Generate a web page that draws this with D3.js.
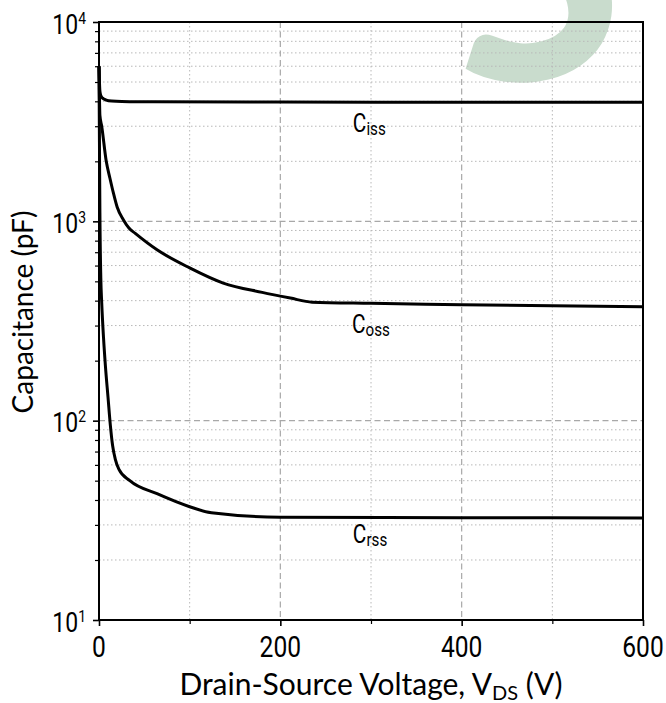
<!DOCTYPE html>
<html>
<head>
<meta charset="utf-8">
<script src="https://cdn.jsdelivr.net/npm/d3@7"></script>
<style>
  body { margin: 0; background: #fff; }
  svg { display: block; }
</style>
</head>
<body>
<div id="chart"></div>
<script>
// capacitance curves (V, pF)
const cissV = [0, 0.5, 1, 2, 4, 8, 14, 25, 60, 200, 400, 600];
const cissC = [6000, 5000, 4500, 4280, 4150, 4060, 4010, 3990, 3980, 3970, 3960, 3960];

const cossV = [0, 0.5, 1, 3, 8, 12, 16, 20, 27, 33, 40, 64, 100, 137, 180, 211, 235, 300, 400, 500, 600];
const cossC = [6000, 4200, 3400, 3000, 2000, 1650, 1380, 1180, 1016, 925, 870, 720, 584, 490, 440, 412, 393, 388, 382, 377, 373];

const crssV = [0, 0.5, 1, 2, 3, 5, 7, 10, 12.5, 15, 18, 22, 34, 64, 100, 124, 200, 400, 600];
const crssC = [6000, 2500, 1100, 520, 390, 260, 190, 130, 95, 75, 64, 57, 50, 43, 37, 34.5, 32.8, 32.6, 32.5];

const xTicks = [0, 200, 400, 600];
const xMinor = [100, 300, 500];
const yTicks = [10, 100, 1000, 10000];

// label anchors (V, pF)
const curveLabels = [
  {main: "C", sub: "iss", v: 280, c: 2800},
  {main: "C", sub: "oss", v: 279, c: 275},
  {main: "C", sub: "rss", v: 280, c: 24.3}
];

const margin = {top: 22, right: 23, bottom: 83, left: 99},
  width = 666 - margin.left - margin.right,
  height = 703 - margin.top - margin.bottom;

const svgRoot = d3.select("#chart")
  .append("svg")
    .attr("width", 666)
    .attr("height", 703);

// faint watermark behind everything (only its lower part shows in the picture)
svgRoot.append("text")
  .attr("transform", "translate(552,76) rotate(-14)")
  .attr("text-anchor", "middle")
  .attr("font-family", "Lato")
  .attr("font-weight", 900)
  .attr("font-size", 320)
  .attr("fill", "#c9dccd")
  .text("S");

const svg = svgRoot.append("g")
    .attr("transform", "translate(" + margin.left + "," + margin.top + ")");

const x = d3.scaleLinear().domain([0, 600]).range([0, width]);
const y = d3.scaleLog().domain([10, 10000]).range([height, 0]);

// minor values on the log axis
let yMinor = [];
[10, 100, 1000].forEach(function (dec) {
  for (let k = 2; k <= 9; k++) yMinor.push(dec * k);
});

// grid
svg.append("g").selectAll("line")
  .data(yMinor).enter().append("line")
  .attr("x1", 0).attr("x2", width)
  .attr("y1", function (d) { return y(d); })
  .attr("y2", function (d) { return y(d); })
  .attr("stroke", "#b8b8b8").attr("stroke-width", 1)
  .attr("stroke-dasharray", "1.5,2.5");

svg.append("g").selectAll("line")
  .data(xMinor).enter().append("line")
  .attr("x1", function (d) { return x(d); })
  .attr("x2", function (d) { return x(d); })
  .attr("y1", 0).attr("y2", height)
  .attr("stroke", "#b8b8b8").attr("stroke-width", 1)
  .attr("stroke-dasharray", "1.5,2.5");

svg.append("g").selectAll("line")
  .data([100, 1000]).enter().append("line")
  .attr("x1", 0).attr("x2", width)
  .attr("y1", function (d) { return y(d); })
  .attr("y2", function (d) { return y(d); })
  .attr("stroke", "#a8a8a8").attr("stroke-width", 1.2)
  .attr("stroke-dasharray", "6,3.5");

svg.append("g").selectAll("line")
  .data([200, 400]).enter().append("line")
  .attr("x1", function (d) { return x(d); })
  .attr("x2", function (d) { return x(d); })
  .attr("y1", 0).attr("y2", height)
  .attr("stroke", "#a8a8a8").attr("stroke-width", 1.2)
  .attr("stroke-dasharray", "6,3.5");

// curves
const line = d3.line()
  .x(function (d) { return x(d[0]); })
  .y(function (d) { return y(d[1]); })
  .curve(d3.curveMonotoneX);

[[cissV, cissC], [cossV, cossC], [crssV, crssC]].forEach(function (s) {
  svg.append("path")
    .datum(s[0].map(function (v, i) { return [v, s[1][i]]; }))
    .attr("fill", "none")
    .attr("stroke", "#000")
    .attr("stroke-width", 3)
    .attr("stroke-linejoin", "round")
    .attr("d", line);
});

// curve labels
curveLabels.forEach(function (l) {
  let t = svg.append("text")
    .attr("transform", "translate(" + x(l.v) + "," + y(l.c) + ") scale(0.8,1)")
    .attr("font-family", "Roboto")
    .attr("font-size", 26)
    .attr("fill", "#000");
  t.append("tspan").text(l.main);
  t.append("tspan").attr("dy", 3).attr("font-size", 19).text(l.sub);
});

// axes (ticks only, labels drawn separately)
svg.append("g")
  .attr("transform", "translate(0," + height + ")")
  .call(d3.axisBottom(x).tickValues(xTicks).tickSize(6).tickFormat(""))
  .call(function (g) { g.select(".domain").remove(); g.selectAll("line").attr("stroke-width", 1.6); });

svg.append("g")
  .attr("transform", "translate(0," + height + ")")
  .call(d3.axisBottom(x).tickValues(xMinor).tickSize(4).tickFormat(""))
  .call(function (g) { g.select(".domain").remove(); g.selectAll("line").attr("stroke-width", 1.2); });

svg.append("g")
  .call(d3.axisLeft(y).tickValues(yTicks).tickSize(6).tickFormat(""))
  .call(function (g) { g.select(".domain").remove(); g.selectAll("line").attr("stroke-width", 1.6); });

svg.append("g")
  .call(d3.axisLeft(y).tickValues(yMinor).tickSize(4).tickFormat(""))
  .call(function (g) { g.select(".domain").remove(); g.selectAll("line").attr("stroke-width", 1.2); });

// frame
svg.append("rect")
  .attr("width", width).attr("height", height)
  .attr("fill", "none").attr("stroke", "#000").attr("stroke-width", 2);

// x tick labels
svg.append("g").selectAll("text")
  .data(xTicks).enter().append("text")
  .attr("transform", function (d) { return "translate(" + x(d) + "," + (height + 37) + ") scale(0.82,1)"; })
  .attr("text-anchor", "middle")
  .attr("font-family", "Roboto")
  .attr("font-size", 30)
  .text(function (d) { return d; });

// y tick labels, 10^n
yTicks.forEach(function (d) {
  let t = svg.append("text")
    .attr("transform", "translate(-13," + (y(d) + 11.5) + ") scale(0.82,1)")
    .attr("text-anchor", "end")
    .attr("font-family", "Roboto")
    .attr("font-size", 28);
  t.append("tspan").text("10");
  t.append("tspan").attr("dy", -10).attr("font-size", 17).text(Math.round(Math.log10(d)));
});

// axis titles
let xt = svg.append("text")
  .attr("x", width / 2)
  .attr("y", height + 75)
  .attr("text-anchor", "middle")
  .attr("font-family", "Lato")
  .attr("font-size", 30);
xt.append("tspan").text("Drain-Source Voltage, V");
xt.append("tspan").attr("dy", 5).attr("font-size", 20).text("DS");
xt.append("tspan").attr("dy", -5).text(" (V)");

svg.append("text")
  .attr("transform", "translate(-66,290) rotate(-90)")
  .attr("text-anchor", "middle")
  .attr("font-family", "Lato")
  .attr("font-size", 28)
  .text("Capacitance (pF)");
</script>
</body>
</html>
